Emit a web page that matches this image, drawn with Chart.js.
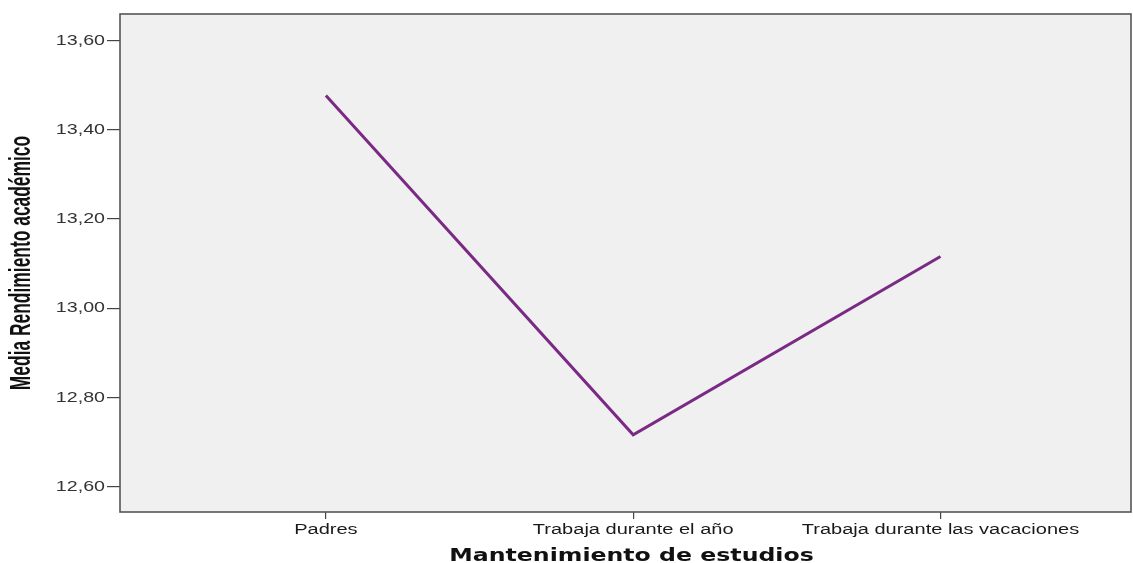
<!DOCTYPE html>
<html>
<head>
<meta charset="utf-8">
<script src="https://cdn.jsdelivr.net/npm/chart.js@4"></script>
<style>
html,body{margin:0;padding:0;background:#fff;}
#wrap{width:1133px;height:563px;position:relative;}
</style>
</head>
<body>
<div id="wrap"><canvas id="c" width="1133" height="563"></canvas></div>
<script>
const categories = ["Padres", "Trabaja durante el año", "Trabaja durante las vacaciones"];
const meanValues = [13.477, 12.716, 13.116];
const yTickValues = [12.6, 12.8, 13.0, 13.2, 13.4, 13.6];
const yTitle = "Media Rendimiento académico";
const xTitle = "Mantenimiento de estudios";

// text stretch [sx, sy, dx] (the reference image looks stretched sideways)
const textScale = {
  x: {labels: [1.43, 1, 0], title: [1.39, 1, 6]},
  y: {labels: [1.31, 1, 0], title: [0.87, 1.43, 0]}
};

function withScaledText(ctx, sx, sy, dx, fn) {
  const orig = ctx.fillText;
  ctx.fillText = function(t, x, y) {
    this.save();
    this.translate(x + dx, y);
    this.scale(sx, sy);
    orig.call(this, t, 0, 0);
    this.restore();
  };
  try { fn(); } finally { ctx.fillText = orig; }
}

const plotBox = {
  id: 'plotBox',
  beforeDraw(chart) {
    const {ctx, chartArea: a} = chart;
    ctx.save();
    ctx.fillStyle = '#f0f0f0';
    ctx.fillRect(a.left, a.top, a.right - a.left, a.bottom - a.top);
    ctx.restore();
  },
  afterDraw(chart) {
    const {ctx, chartArea: a} = chart;
    ctx.save();
    ctx.strokeStyle = '#555';
    ctx.lineWidth = 1.6;
    ctx.strokeRect(a.left, a.top, a.right - a.left, a.bottom - a.top);
    ctx.restore();
  },
  beforeLayout(chart) {
    const P = Chart.Scale.prototype;
    for (const id of ['x', 'y']) {
      const s = chart.scales[id];
      if (!s || s._wrapped) continue;
      s._wrapped = true;
      s.drawLabels = function(ca) {
        const [sx, sy, dx] = textScale[id].labels;
        withScaledText(this.ctx, sx, sy, dx, () => P.drawLabels.call(this, ca));
      };
      s.drawTitle = function(ca) {
        const [sx, sy, dx] = textScale[id].title;
        withScaledText(this.ctx, sx, sy, dx, () => P.drawTitle.call(this, ca));
      };
    }
  }
};

new Chart(document.getElementById('c'), {
  type: 'line',
  data: {
    datasets: [{
      data: meanValues.map((v, i) => ({x: i, y: v})),
      borderColor: '#7a2a85',
      borderWidth: 3,
      pointRadius: 0,
      tension: 0,
      fill: false
    }]
  },
  options: {
    responsive: false,
    animation: false,
    layout: {padding: {left: 0, top: 14, right: 2, bottom: 0}},
    plugins: {legend: {display: false}, tooltip: {enabled: false}},
    scales: {
      x: {
        type: 'linear',
        min: -0.67,
        max: 2.62,
        afterBuildTicks: s => { s.ticks = categories.map((c, i) => ({value: i})); },
        afterFit: s => { s.height = 51; },
        grid: {drawOnChartArea: false, tickLength: 7, color: '#444', lineWidth: 1.2},
        border: {display: false},
        ticks: {
          autoSkip: false, maxRotation: 0, padding: 3,
          color: '#1a1a1a',
          font: {family: "'Liberation Sans', Arial, sans-serif", size: 14},
          callback: v => categories[v] ?? ''
        },
        title: {
          display: true, text: xTitle, color: '#111',
          padding: {top: 0, bottom: -4},
          font: {family: "'DejaVu Sans', sans-serif", size: 17, weight: 'bold'}
        }
      },
      y: {
        min: 12.543,
        max: 13.66,
        afterBuildTicks: s => { s.ticks = yTickValues.map(v => ({value: v})); },
        afterFit: s => { s.width = 120; },
        grid: {drawOnChartArea: false, tickLength: 13, color: '#444', lineWidth: 1.2},
        border: {display: false},
        ticks: {
          padding: 2, color: '#333',
          font: {family: "'Liberation Sans', Arial, sans-serif", size: 15},
          callback: v => v.toFixed(2).replace('.', ',')
        },
        title: {
          display: true, text: yTitle, color: '#111',
          padding: {top: 10, bottom: 0},
          font: {family: "'Liberation Sans', Arial, sans-serif", size: 20, weight: 'bold'}
        }
      }
    }
  },
  plugins: [plotBox]
});
</script>
</body>
</html>
